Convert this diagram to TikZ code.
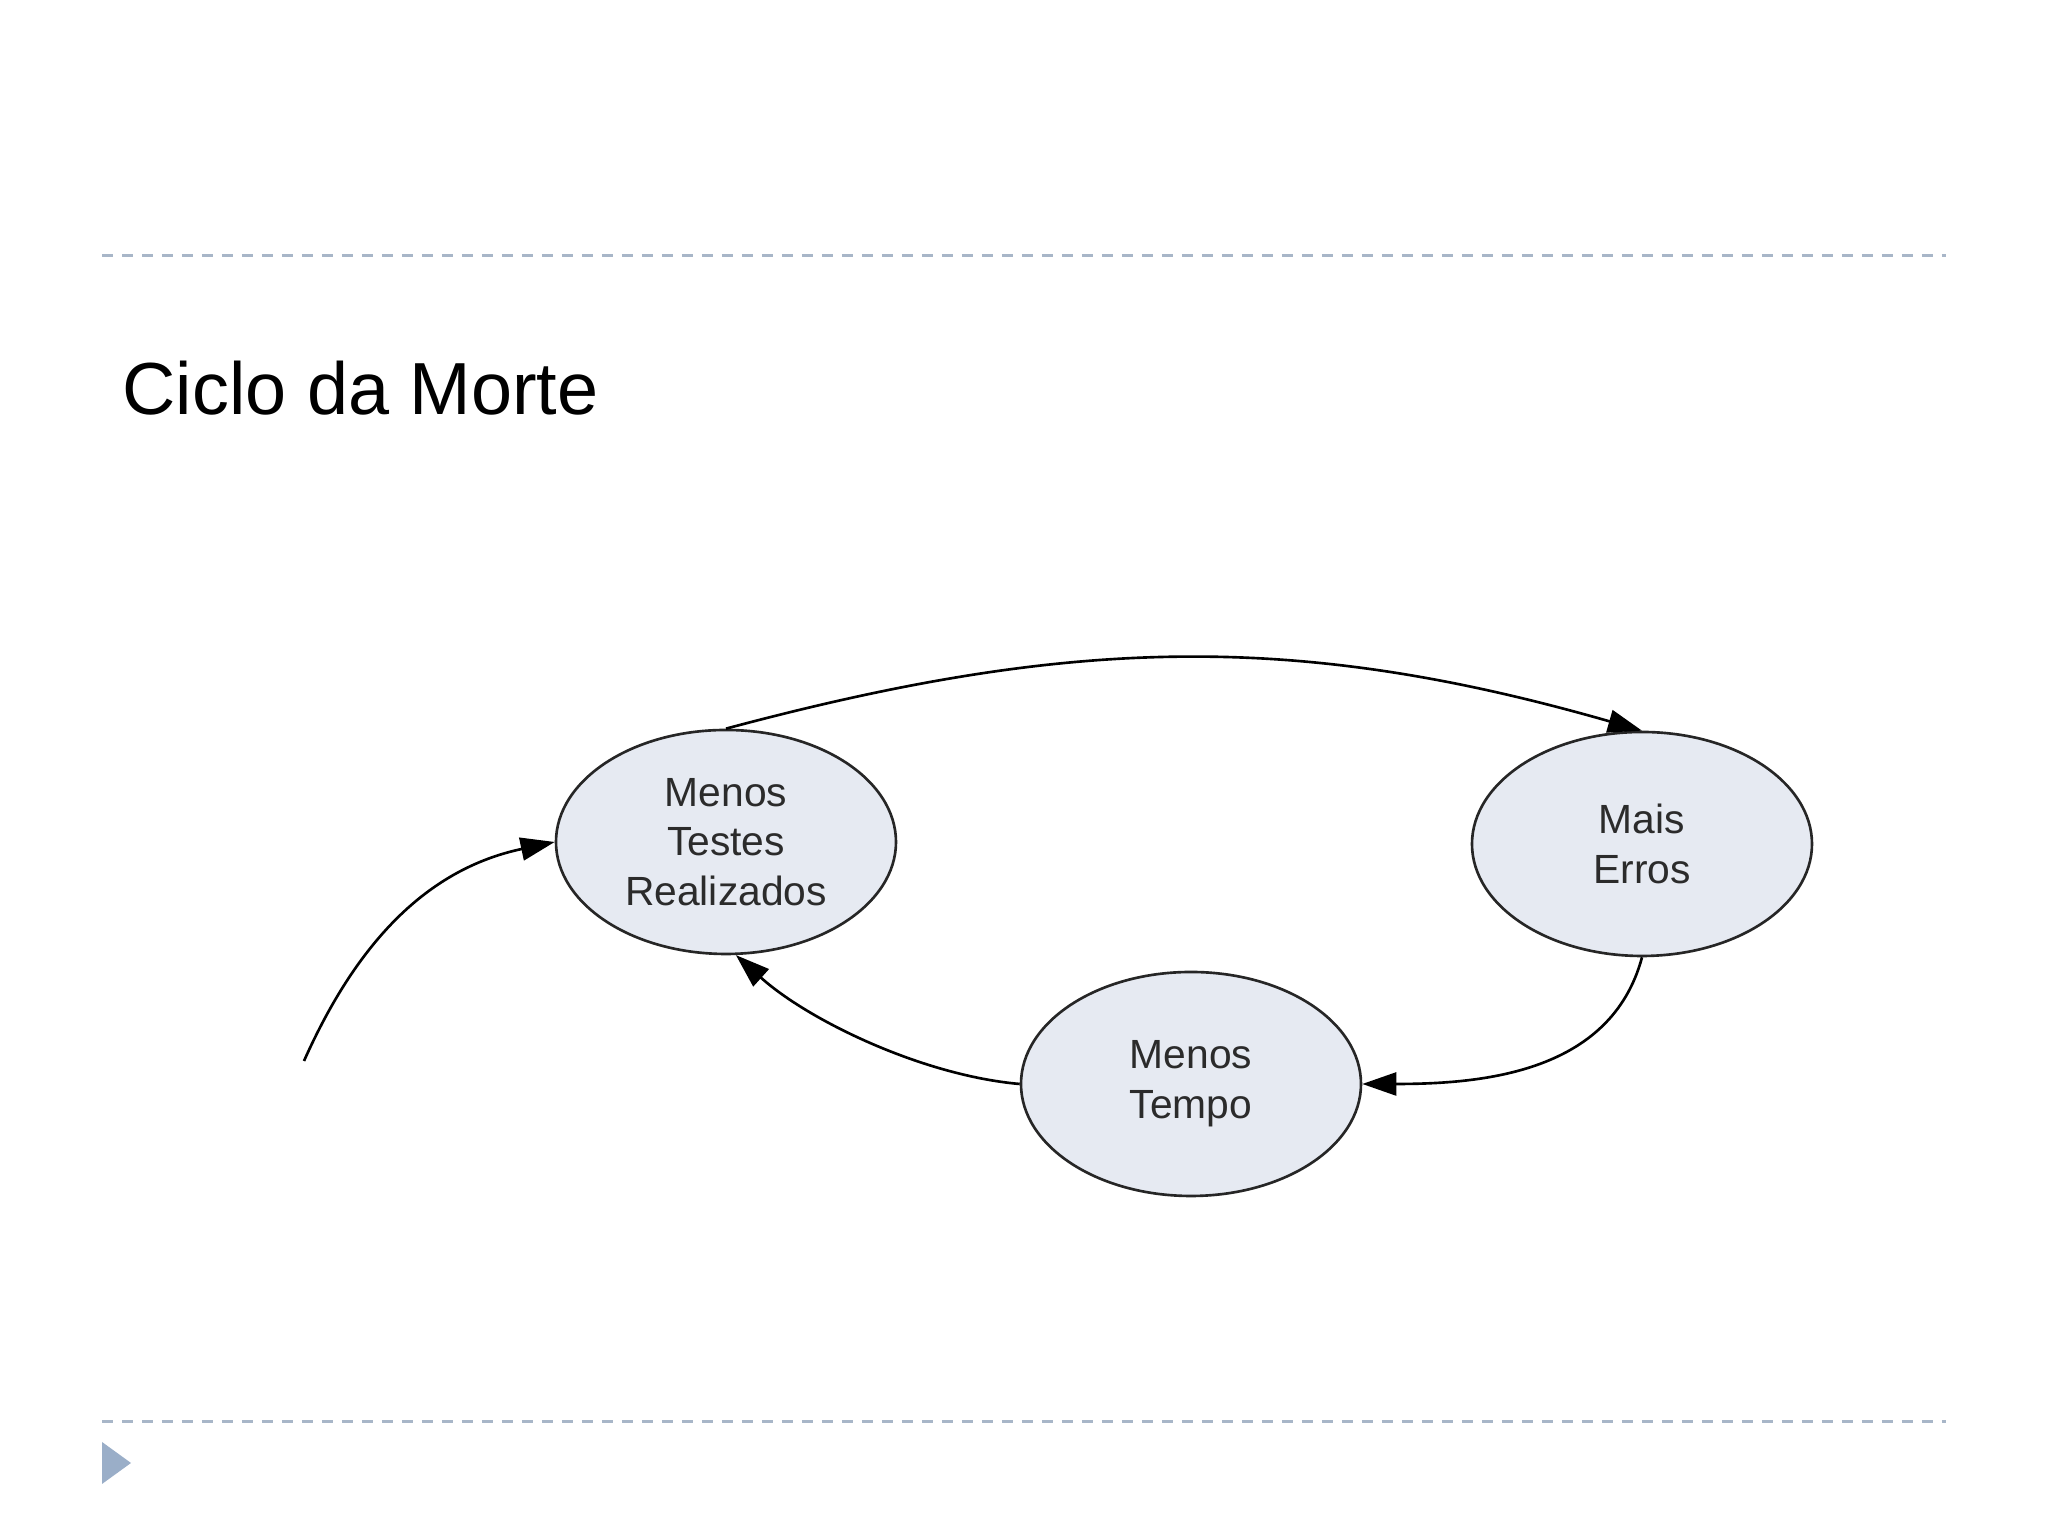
\documentclass[tikz,border=0pt]{standalone}
\usepackage{fontspec}
\setmainfont{Liberation Sans}
\usetikzlibrary{arrows.meta,shapes.geometric}

\definecolor{linha}{HTML}{A8B6C8}
\definecolor{marca}{HTML}{9AAEC8}
\definecolor{bolha}{HTML}{E6EAF2}
\definecolor{texto}{HTML}{2B2B2B}

\begin{document}
\begin{tikzpicture}[estado/.style={ellipse, draw=black!85, line width=0.75pt, fill=bolha, minimum width=3.4cm, minimum height=2.24cm, inner sep=0pt, align=center, text=texto, font=\fontsize{11.6}{14.1}\selectfont},
seta/.style={line width=0.75pt, -{Triangle[length=3.4mm, width=2.3mm]}},
tracejado/.style={linha, line width=0.85pt, dash pattern=on 0.11cm off 0.09cm}]
\useasboundingbox[fill=white] (0,0) rectangle (20.48,15.36);

\draw[tracejado] (1.02,12.80) -- (19.46,12.80);
\draw[tracejado] (1.02,1.14) -- (19.46,1.14);
\fill[marca] (1.02,0.94) -- (1.31,0.73) -- (1.02,0.52) -- cycle;

\node[anchor=base west, inner sep=0pt, font=\fontsize{21}{25}\selectfont] (titulo) at (1.22,11.21) {Ciclo da Morte};

\node[estado] (menostestes) at (7.26,6.94) {Menos\\Testes\\Realizados};
\node[estado] (maiserros) at (16.42,6.92) {Mais\\Erros};
\node[estado] (menostempo) at (11.91,4.52) {Menos\\Tempo};
\coordinate (inicio) at (3.04,4.75);

\draw[seta] (menostestes.north) to[out=15, in=164] (maiserros.north);
\draw[seta] (maiserros.south) to[out=-105, in=0] (menostempo.east);
\draw[seta] (menostempo.west) to[out=175, in=-42, looseness=0.8] (menostestes.-85);
\draw[seta] (inicio) to[out=66, in=192] (menostestes.west);
\end{tikzpicture}
\end{document}
